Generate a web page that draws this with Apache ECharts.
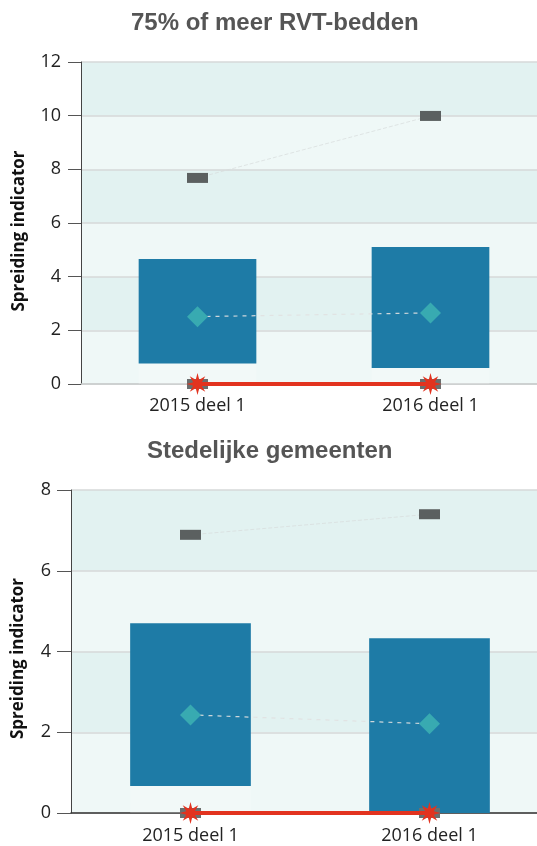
<!DOCTYPE html>
<html>
<head>
<meta charset="utf-8">
<script src="https://cdn.jsdelivr.net/npm/echarts@6/dist/echarts.min.js"></script>
<style>html,body{margin:0;padding:0;background:#fff}#c{width:537px;height:846px}</style>
</head>
<body>
<div id="c"></div>
<script>
var categories = ['2015 deel 1', '2016 deel 1'];
var titles = ['75% of meer RVT-bedden', 'Stedelijke gemeenten'];
var yAxisName = 'Spreiding indicator';

// chart 1: 75% of meer RVT-bedden
var low1 = [0.76, 0.60];
var high1 = [4.66, 5.11];
var median1 = [2.51, 2.65];
var max1 = [7.68, 9.99];
var min1 = [0, 0];
var yTicks1 = [0, 2, 4, 6, 8, 10, 12];

// chart 2: Stedelijke gemeenten
var low2 = [0.67, 0.0];
var high2 = [4.70, 4.33];
var median2 = [2.43, 2.21];
var max2 = [6.89, 7.40];
var min2 = [0, 0];
var yTicks2 = [0, 2, 4, 6, 8];

var STAR = 'path://M10,0L11.6,6.1L17.07,2.93L13.9,8.4L20,10L13.9,11.6L17.07,17.07L11.6,13.9L10,20L8.4,13.9L2.93,17.07L6.1,11.6L0,10L6.1,8.4L2.93,2.93L8.4,6.1Z';
var FONT = 'Open Sans';

function yAxis(idx, ticks, nameGap, namePad, tickLen) {
  return {
    gridIndex: idx, type: 'value',
    min: ticks[0], max: ticks[ticks.length - 1], interval: ticks[1] - ticks[0],
    name: yAxisName, nameLocation: 'middle', nameGap: nameGap,
    nameTextStyle: {fontFamily: FONT, fontWeight: 'bold', fontSize: 17, color: '#111', padding: namePad},
    axisLine: {show: true, lineStyle: {color: '#444', width: 1}},
    axisTick: {show: true, length: tickLen, lineStyle: {color: '#555'}},
    axisLabel: {fontFamily: FONT, fontSize: 18, color: '#222', margin: 20},
    splitLine: {show: true, lineStyle: {color: '#d6d9d9', width: 1.5}},
    splitArea: {show: true, areaStyle: {color: ['#eff8f7', '#e2f2f1']}}
  };
}
function xAxis(idx, lineColor, margin) {
  return {
    gridIndex: idx, type: 'category', data: categories, boundaryGap: true,
    axisLine: {show: true, lineStyle: {color: lineColor, width: 1.5}},
    axisTick: {show: false},
    axisLabel: {fontFamily: FONT, fontSize: 18, color: '#222', margin: margin}
  };
}
function seriesFor(idx, low, high, median, max, min) {
  var diff = high.map(function (h, i) { return +(h - low[i]).toFixed(3); });
  var base = {xAxisIndex: idx, yAxisIndex: idx};
  return [
    Object.assign({type: 'bar', stack: 's' + idx, data: low, barWidth: '50.5%',
      itemStyle: {color: 'rgba(255,255,255,0.2)'}, silent: true}, base),
    Object.assign({type: 'bar', stack: 's' + idx, data: diff, barWidth: '50.5%',
      itemStyle: {color: '#1e7ba6'}}, base),
    Object.assign({type: 'line', data: max, symbol: 'rect', symbolSize: [21, 10],
      itemStyle: {color: '#5b6060'}, lineStyle: {color: 'rgba(215,220,220,0.7)', width: 1, type: 'dashed'}, z: 5}, base),
    Object.assign({type: 'line', data: median, symbol: 'diamond', symbolSize: 21,
      itemStyle: {color: '#38aab1'}, lineStyle: {color: 'rgba(225,225,225,0.9)', width: 1.2, type: [4, 5]}, z: 5}, base),
    Object.assign({type: 'line', data: min, symbol: 'rect', symbolSize: [21, 10],
      itemStyle: {color: '#6b6e6e'}, lineStyle: {width: 0}, z: 6}, base),
    Object.assign({type: 'line', data: min, symbol: STAR, symbolSize: 22,
      itemStyle: {color: '#e2331f'}, lineStyle: {color: '#e2331f', width: 4}, z: 7}, base)
  ];
}

var chart = echarts.init(document.getElementById('c'), null, {renderer: 'canvas'});
chart.setOption({
  animation: false,
  title: [
    {text: titles[0], left: 126, top: 6, textStyle: {fontFamily: 'Liberation Sans', fontWeight: 'bold', fontSize: 24, color: '#555'}},
    {text: titles[1], left: 142, top: 434, textStyle: {fontFamily: 'Liberation Sans', fontWeight: 'bold', fontSize: 24, color: '#555'}}
  ],
  grid: [
    {left: 81, top: 62, width: 466, height: 322, outerBoundsMode: 'none', containLabel: false},
    {left: 71, top: 490, width: 478, height: 323, outerBoundsMode: 'none', containLabel: false}
  ],
  xAxis: [xAxis(0, '#c8cccc', 13), xAxis(1, '#333', 14)],
  yAxis: [yAxis(0, yTicks1, 53, [0, 16, 0, 0], 13), yAxis(1, yTicks2, 44, [0, 14, 0, 0], 14)],
  series: seriesFor(0, low1, high1, median1, max1, min1).concat(seriesFor(1, low2, high2, median2, max2, min2))
});
</script>
</body>
</html>
